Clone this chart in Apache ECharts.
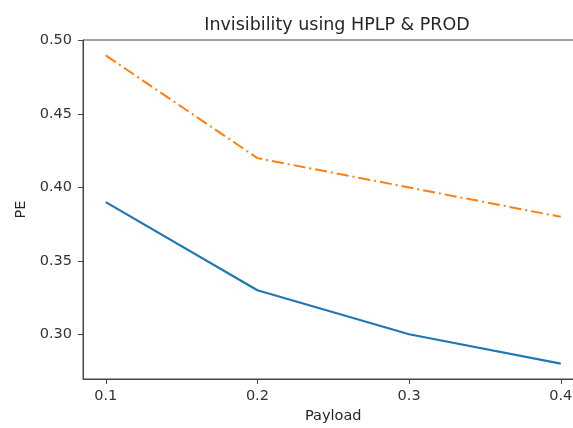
<!DOCTYPE html>
<html>
<head>
<meta charset="utf-8">
<script src="https://cdn.jsdelivr.net/npm/echarts@6/dist/echarts.min.js"></script>
<style>
html,body{margin:0;padding:0;background:#fff;}
#chart{width:573px;height:428px;}
</style>
</head>
<body>
<div id="chart"></div>
<script>
var payload = [0.1, 0.2, 0.3, 0.4];
var hplp = [0.39, 0.33, 0.30, 0.28];
var prod = [0.49, 0.42, 0.40, 0.38];
var xTicks = [0.1, 0.2, 0.3, 0.4];
var yTicks = [0.30, 0.35, 0.40, 0.45, 0.50];

var chart = echarts.init(document.getElementById('chart'), null, {renderer: 'canvas'});
var font = 'DejaVu Sans';
function pairs(xs, ys) { return xs.map(function (x, i) { return [x, ys[i]]; }); }
chart.setOption({
  animation: false,
  backgroundColor: '#fff',
  title: {
    text: 'Invisibility using HPLP & PROD',
    left: 332, top: 11, textAlign: 'center',
    textStyle: {fontFamily: font, fontSize: 17.5, fontWeight: 'normal', color: '#262626'}
  },
  grid: {left: 83, top: 40, width: 500.5, height: 339, show: true, borderColor: '#444', borderWidth: 1,
    containLabel: false, outerBoundsMode: 'none'},
  xAxis: {
    type: 'value', min: 0.085, max: 0.415,
    name: 'Payload', nameLocation: 'middle', nameGap: 30,
    nameTextStyle: {fontFamily: font, fontSize: 14.5, color: '#262626'},
    axisLine: {show: true, lineStyle: {color: '#444', width: 1}},
    axisTick: {show: true, length: 5, lineStyle: {color: '#444'}, customValues: xTicks},
    axisLabel: {fontFamily: font, fontSize: 14.5, color: '#333', margin: 10, customValues: xTicks,
      formatter: function (v) { return v.toFixed(1); }},
    splitLine: {show: false}
  },
  yAxis: {
    type: 'value', min: 0.2695, max: 0.5005,
    name: 'PE', nameLocation: 'middle', nameGap: 51,
    nameTextStyle: {fontFamily: font, fontSize: 14.5, color: '#262626'},
    axisLine: {show: true, lineStyle: {color: '#444', width: 1}},
    axisTick: {show: true, length: 5, lineStyle: {color: '#444'}, customValues: yTicks},
    axisLabel: {fontFamily: font, fontSize: 14.5, color: '#333', margin: 11, customValues: yTicks,
      formatter: function (v) { return v.toFixed(2); }},
    splitLine: {show: false}
  },
  series: [
    {type: 'line', name: 'HPLP', data: pairs(payload, hplp), showSymbol: false, symbol: 'none',
      lineStyle: {color: '#1f77b4', width: 2.2}},
    {type: 'line', name: 'PROD', data: pairs(payload, prod), showSymbol: false, symbol: 'none',
      lineStyle: {color: '#ff7f0e', width: 2, type: [12, 4, 2, 4]}}
  ]
});
</script>
</body>
</html>
